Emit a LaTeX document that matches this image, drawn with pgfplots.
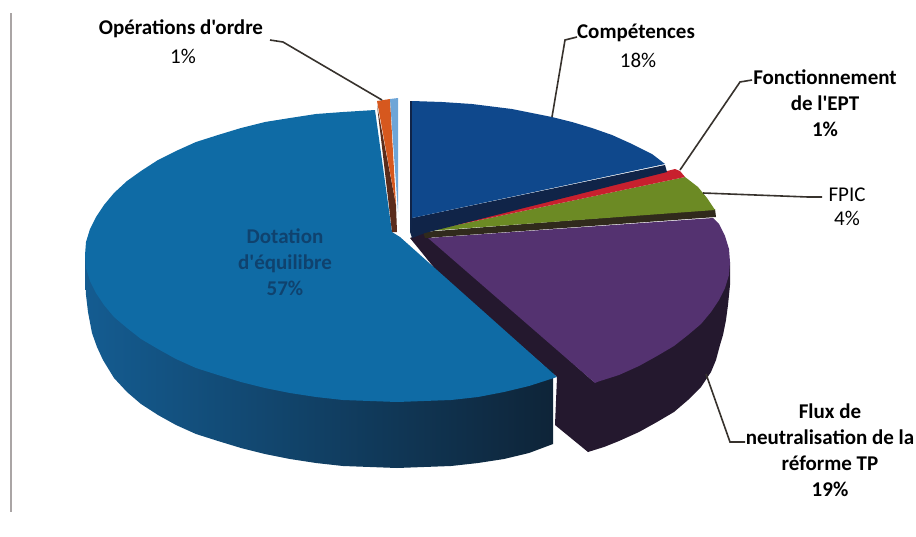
\documentclass[border=0pt]{standalone}
\usepackage{pgfplots}
\pgfplotsset{compat=1.18}
\usepackage{fontspec}
\setmainfont{Carlito}[Ligatures=TeXOff]
\definecolor{bluetop}{RGB}{15,107,165}
\definecolor{bluesideA}{RGB}{20,92,145}
\definecolor{bluesideB}{RGB}{16,70,112}
\definecolor{bluesideC}{RGB}{14,36,56}
\definecolor{navy}{RGB}{15,72,140}
\definecolor{navydark}{RGB}{16,36,72}
\definecolor{redtop}{RGB}{200,32,46}
\definecolor{greentop}{RGB}{108,138,36}
\definecolor{greendark}{RGB}{48,42,28}
\definecolor{purpletop}{RGB}{84,50,112}
\definecolor{purpledark}{RGB}{36,24,46}
\definecolor{orangetop}{RGB}{214,88,30}
\definecolor{browndark}{RGB}{90,44,28}
\definecolor{lightblue}{RGB}{110,165,215}
\definecolor{leader}{RGB}{55,50,45}
\definecolor{datatext}{RGB}{15,66,110}
\tikzset{lab/.style={font=\fontsize{21}{26}\selectfont\bfseries,align=center,text=black,inner sep=0pt}}
\begin{document}
\begin{tikzpicture}
\begin{axis}[
  scale only axis,width=916pt,height=536pt,
  xmin=0,xmax=916,ymin=0,ymax=536,y dir=reverse,
  axis lines=none,clip=true]
\addplot[draw=none,forget plot] coordinates {(0,0)(916,536)};
% frame line at left
\addplot[draw={rgb,255:red,170;green,165;blue,165},line width=2pt] coordinates {(11,13)(11,512)};
% purple side and inner dark wall
\addplot[fill=purpledark,draw=none] coordinates {(410,238)(425,232)(595,383)(588,452)(555,425)(557,377)(440,275)} --cycle;
\addplot[fill=purpledark,draw=none] coordinates {(730,262)(730,285)(728,305)(726,320)(723,335)(720,345)(716,360)(711,372)(701,387)(688,400)(674,412)(657,422)(639,432)(619,441)(604,447)(588,452)(575,400)(595,380)} --cycle;
% purple top
\addplot[fill=purpletop,draw=none] coordinates {(428,238)(713,218)(719,224)(725,236)(729,249)(730,262)(729,275)(725,288)(719,300)(711,312)(701,324)(688,335)(674,346)(657,356)(639,366)(619,375)(597,382)(595,383)} --cycle;
% dark wall under green
\addplot[fill=greendark,draw=none] coordinates {(423,232)(715,209)(716,217)(425,238)} --cycle;
% green
\addplot[fill=greentop,draw=none] coordinates {(428,231)(685,177)(698,187)(707,198)(715,210)} --cycle;
% red
\addplot[fill=redtop,draw=none] coordinates {(428,231)(675,169)(680,171)(685,177)} --cycle;
% navy wall and top
\addplot[fill=navydark,draw=none] coordinates {(410,101)(412,101)(412,218)(665,165)(667,172)(425,233)(412,238)(410,232)} --cycle;
\addplot[fill=navy,draw=none] coordinates {(412,101)(442,102)(472,104)(512,109)(552,117)(572,122)(592,128)(612,135)(632,144)(652,154)(665,164)(412,218)} --cycle;
% dotation side
\addplot[left color=bluesideA,middle color=bluesideB,right color=bluesideC,draw=none] coordinates {(85,255)(85,275)(86,295)(88,312)(92,333)(97,347)(103,360)(114,378)(127,392)(141,404)(158,415)(176,425)(196,434)(218,441)(241,448)(265,454)(290,459)(316,463)(343,466)(370,467)(397,468)(424,467)(451,466)(478,463)(504,459)(529,453)(553,444)(553,370)(300,300)} --cycle;
% dotation top
\addplot[fill=bluetop,draw=none] coordinates {(375,110)(343,112)(316,114)(290,118)(265,122)(241,128)(218,135)(196,142)(176,151)(158,160)(141,171)(127,181)(114,193)(104,205)(96,217)(90,229)(86,242)(85,255)(86,268)(90,281)(96,293)(104,305)(114,317)(127,328)(141,339)(158,349)(176,359)(196,368)(218,375)(241,382)(265,388)(290,393)(316,397)(343,400)(370,401)(397,402)(424,401)(451,400)(478,397)(504,392)(529,386)(557,377)(400,237)(392,232)} --cycle;
% operations d'ordre
\addplot[fill=browndark,draw=none] coordinates {(377,105)(392,232)(397,232)(396,205)} --cycle;
\addplot[fill=orangetop,draw=none] coordinates {(377,101)(390,99)(396,205)} --cycle;
\addplot[fill=lightblue,draw=none] coordinates {(390,99)(398,98)(398,212)} --cycle;
% leaders
\addplot[leader,line width=1.6pt] coordinates {(382,100)(283,42)(270,40)};
\addplot[leader,line width=1.6pt] coordinates {(552,117)(565,40)(577,37)};
\addplot[leader,line width=1.6pt] coordinates {(680,170)(740,82)(752,80)};
\addplot[leader,line width=1.6pt] coordinates {(703,193)(808,197)(822,197)};
\addplot[leader,line width=1.6pt] coordinates {(706,374)(730,442)(745,442)};
% labels
\node[lab] at (axis cs:181,29) {Opérations d'ordre};
\node[lab,font=\fontsize{21}{26}\selectfont] at (axis cs:183,56) {1\%};
\node[lab] at (axis cs:636,33) {Compétences};
\node[lab,font=\fontsize{21}{26}\selectfont] at (axis cs:638,60) {18\%};
\node[lab] at (axis cs:825,103) {Fonctionnement\\de l'EPT\\1\%};
\node[lab,font=\fontsize{21}{24}\selectfont] at (axis cs:847,207) {FPIC\\4\%};
\node[lab] at (axis cs:830,450) {Flux de\\neutralisation de la\\réforme TP\\19\%};
\node[lab,text=datatext] at (axis cs:285,262) {Dotation\\d'équilibre\\57\%};
\end{axis}
\end{tikzpicture}
\end{document}
